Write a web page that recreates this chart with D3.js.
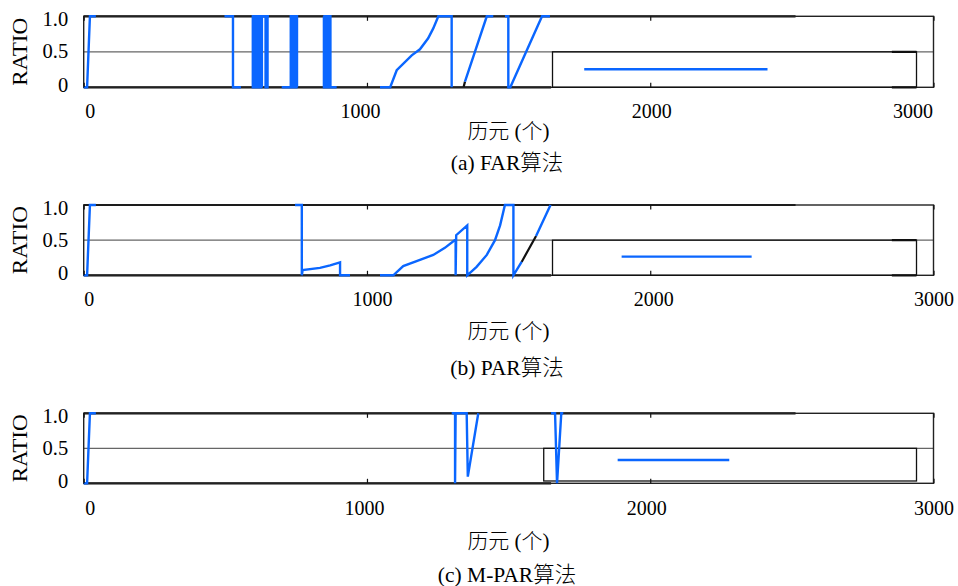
<!DOCTYPE html>
<html>
<head>
<meta charset="utf-8">
<script src="https://cdn.jsdelivr.net/npm/d3@7"></script>
<style>
  html, body { margin: 0; padding: 0; background: #fff; }
  svg { display: block; }
  text { font-family: "Liberation Serif", "Noto Sans CJK SC", serif; fill: #000; }
  .cjk { font-weight: 300; }
</style>
</head>
<body>
<svg id="chart" width="958" height="586"></svg>
<script>
// ---------------- data ----------------
const epochTicks = [0, 1000, 2000, 3000];
const epochTickLabels = ["0", "1000", "2000", "3000"];
const ratioTicks = [0, 0.5, 1];
const ratioTickLabels = ["0", "0.5", "1.0"];
const xAxisTitle = "历元 (个)";
const yAxisTitle = "RATIO";
const panelCaptions = ["(a) FAR算法", "(b) PAR算法", "(c) M-PAR算法"];

// blue series: [epoch, ratio], null = gap
const blueFAR = [
  [0,0],[12,0],[22,1],[43,1], null,
  [497,1],[527,1],[527,0],[555,0], null,
  [593,1],[597,1],[597,0],[599,0],[599,1],[601,1],[601,0],[603,0],[603,1],[605,1],[605,0],
  [607,0],[607,1],[609,1],[609,0],[611,0],[611,1],[613,1],[613,0],[615,0],[615,1],[617,1],
  [617,0],[619,0],[619,1],[621,1],[621,0],[623,0],[623,1],[625,1],[625,0],[627,0],[627,1],
  [629,1],[629,0],[629,1],[642,1],[642,0],[649,0],[649,1],[654,1], null,
  [699,0],[731,0],[731,1],[733,1],[733,0],[735,0],[735,1],[737,1],[737,0],[739,0],[739,1],
  [741,1],[741,0],[743,0],[743,1],[745,1],[745,0],[747,0],[747,1],[749,1],[749,0],[751,0],
  [751,1],[753,1],[753,0], null,
  [848,1],[848,0],[850,0],[850,1],[852,1],[852,0],[854,0],[854,1],[856,1],[856,0],[858,0],
  [858,1],[860,1],[860,0],[862,0],[862,1],[864,1],[864,0],[866,0],[866,1],[868,1],[868,0],
  [870,0],[870,1],[871,1],[871,0],[893,0], null,
  [1046,0],[1082,0],[1105,0.24],[1158,0.45],[1187,0.535],[1216,0.69],[1234,0.83],[1252,1],
  [1299,1],[1299,0], null,
  [1346,0.08],[1423,1],[1446,1], null,
  [1487,1],[1499,1],[1499,0],[1506,0],[1618,1],[1646,1]
];
const bluePAR = [
  [0,0],[12,0],[22,1],[43,1], null,
  [746,1],[770,1],[770,0],[773,0.075],[834,0.105],[870,0.14],[905,0.185],[905,0],[940,0], null,
  [1046,0],[1093,0],[1128,0.13],[1187,0.22],[1234,0.29],[1275,0.39],[1313,0.51],[1313,0],
  [1315,0.57],[1354,0.71],[1354,0],[1387,0.12],[1423,0.29],[1452,0.5],[1470,0.71],[1487,1],
  [1517,1],[1517,0],[1546,0.19], null,
  [1597,0.56],[1648,1]
];
const blueMPAR = [
  [0,0],[12,0],[22,1],[43,1], null,
  [1299,1],[1311,1],[1311,0],[1313,1],[1352,1],[1356,0.095],[1393,1], null,
  [1650,1],[1664,1],[1671,0],[1686,1],[1693,1]
];

// black series
const blackFAR = [
  [0,1],[2513,1], null, [0,0],[1650,0], null, [1341,0],[1346,0.08], null,
  [2853,0.5],[2940,0.5], null, [2853,0],[2940,0]
];
const blackPAR = [
  [0,1],[2513,1], null, [0,0],[1650,0], null, [1546,0.19],[1597,0.56], null,
  [2853,0.5],[2940,0.5], null, [2853,0],[2940,0]
];
const blackMPAR = [
  [0,1],[2513,1], null, [0,0],[1650,0]
];

// legend (key) box and sample line, in data units
const legendFAR  = { box: [1655, 2940, 0, 0.5],     sample: [1767, 2414, 0.254] };
const legendPAR  = { box: [1655, 2940, 0, 0.5],     sample: [1899, 2358, 0.265] };
const legendMPAR = { box: [1624, 2940, 0.033, 0.5], sample: [1885, 2279, 0.333] };

// ---------------- layout ----------------
const blueColor = "#0a66ff";
const panels = [
  { blue: blueFAR,  black: blackFAR,  legend: legendFAR,  top: 16.3,  bottom: 87.3,
    tickBase: 118, xTitleY: 131, capY: 163, tickShift: [6, -7, 1, -21] },
  { blue: bluePAR,  black: blackPAR,  legend: legendPAR,  top: 205,   bottom: 275.3,
    tickBase: 306, xTitleY: 331, capY: 368, tickShift: [5, 5, 3, 0] },
  { blue: blueMPAR, black: blackMPAR, legend: legendMPAR, top: 413.3, bottom: 483.3,
    tickBase: 515, xTitleY: 541, capY: 575, tickShift: [6, -3, -4, 0] }
];
const yLabelDy = [4, 6, 9]; // baseline offsets for 0, 0.5, 1.0

const svg = d3.select("#chart");
const x = d3.scaleLinear().domain([0, 3000]).range([83.7, 933.5]);

panels.forEach((p, i) => {
  const y = d3.scaleLinear().domain([0, 1]).range([p.bottom, p.top]);
  const g = svg.append("g");
  const line = d3.line().defined(d => d !== null).x(d => x(d[0])).y(d => y(d[1]));

  // grid line at 0.5
  g.append("line")
    .attr("x1", x(0)).attr("x2", x(3000))
    .attr("y1", y(0.5)).attr("y2", y(0.5))
    .attr("stroke", "#666").attr("stroke-width", 1.2);

  // black series
  g.append("path").datum(p.black).attr("d", line)
    .attr("fill", "none").attr("stroke", "#111").attr("stroke-width", 2.2);

  // frame
  g.append("rect")
    .attr("x", x(0)).attr("y", y(1))
    .attr("width", x(3000) - x(0)).attr("height", y(0) - y(1))
    .attr("fill", "none").attr("stroke", "#222").attr("stroke-width", 1.4);

  // legend box
  const lb = p.legend.box;
  g.append("rect")
    .attr("x", x(lb[0])).attr("y", y(lb[3]))
    .attr("width", x(lb[1]) - x(lb[0])).attr("height", y(lb[2]) - y(lb[3]))
    .attr("fill", "none").attr("stroke", "#111").attr("stroke-width", 1.3);

  // blue series
  g.append("path").datum(p.blue).attr("d", line)
    .attr("fill", "none").attr("stroke", blueColor).attr("stroke-width", 2.4)
    .attr("stroke-linejoin", "miter").attr("stroke-linecap", "butt");

  // legend sample
  const ls = p.legend.sample;
  g.append("line")
    .attr("x1", x(ls[0])).attr("x2", x(ls[1]))
    .attr("y1", y(ls[2])).attr("y2", y(ls[2]))
    .attr("stroke", blueColor).attr("stroke-width", 2.4);

  // bottom axis (ticks inward + labels)
  const xb = g.append("g").attr("transform", `translate(0,${p.bottom})`)
    .call(d3.axisBottom(x).tickValues(epochTicks)
      .tickFormat((d, k) => epochTickLabels[k]).tickSizeInner(-4.5).tickSizeOuter(0));
  xb.select(".domain").remove();
  xb.selectAll(".tick line").attr("stroke", "#111").attr("stroke-width", 1.2);
  xb.selectAll(".tick text")
    .attr("y", p.tickBase - p.bottom).attr("dy", 0)
    .attr("dx", (d, k) => p.tickShift[k])
    .style("font-family", '"Liberation Serif", serif')
    .style("font-size", "20px").attr("fill", "#000");

  // top axis (ticks only)
  const xt = g.append("g").attr("transform", `translate(0,${p.top})`)
    .call(d3.axisTop(x).tickValues(epochTicks).tickFormat("").tickSizeInner(-4.5).tickSizeOuter(0));
  xt.select(".domain").remove();
  xt.selectAll(".tick line").attr("stroke", "#111").attr("stroke-width", 1.2);

  // left axis labels
  const yl = g.append("g").attr("transform", `translate(${x(0)},0)`)
    .call(d3.axisLeft(y).tickValues(ratioTicks)
      .tickFormat((d, k) => ratioTickLabels[k]).tickSize(0).tickPadding(15.5));
  yl.select(".domain").remove();
  yl.selectAll(".tick text")
    .attr("dy", 0).attr("y", (d, k) => yLabelDy[k])
    .style("font-family", '"Liberation Serif", serif')
    .style("font-size", "20.5px").attr("fill", "#000");

  // y title
  g.append("text")
    .attr("transform", `translate(26.5,${(p.top + p.bottom) / 2}) rotate(-90)`)
    .attr("text-anchor", "middle")
    .attr("textLength", 68).attr("lengthAdjust", "spacingAndGlyphs")
    .style("font-size", "20.5px")
    .text(yAxisTitle);

  // x title
  g.append("text").attr("class", "cjk")
    .attr("x", 508.5).attr("y", p.xTitleY)
    .attr("text-anchor", "middle").attr("dominant-baseline", "central")
    .style("font-size", "21px")
    .text(xAxisTitle);

  // caption
  g.append("text").attr("class", "cjk")
    .attr("x", 507).attr("y", p.capY)
    .attr("text-anchor", "middle").attr("dominant-baseline", "central")
    .style("font-size", "21.5px")
    .text(panelCaptions[i]);
});
</script>
</body>
</html>
